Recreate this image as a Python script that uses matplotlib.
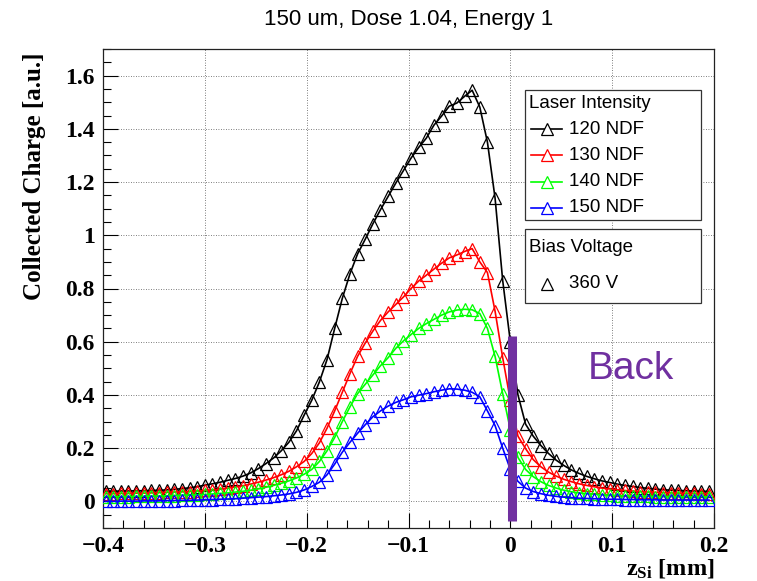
import matplotlib
matplotlib.use("Agg")
import matplotlib.pyplot as plt
from matplotlib.lines import Line2D
from matplotlib.patches import Rectangle
from matplotlib.ticker import MultipleLocator

plt.rcParams['mathtext.fontset'] = 'custom'
plt.rcParams['mathtext.bf'] = 'Liberation Serif:bold'
plt.rcParams['mathtext.rm'] = 'Liberation Serif:bold'

# ---------------- data ----------------
z_si = [-0.3975, -0.39, -0.3825, -0.375, -0.3675, -0.36, -0.3525, -0.345, -0.3375, -0.33,
        -0.3225, -0.315, -0.3075, -0.3, -0.2925, -0.285, -0.2775, -0.27, -0.2625, -0.255,
        -0.2475, -0.24, -0.2325, -0.225, -0.2175, -0.21, -0.2025, -0.195, -0.1875, -0.18,
        -0.1725, -0.165, -0.1575, -0.15, -0.1425, -0.135, -0.1275, -0.12, -0.1125, -0.105,
        -0.0975, -0.09, -0.0825, -0.075, -0.0675, -0.06, -0.0525, -0.045, -0.0375, -0.03,
        -0.0225, -0.015, -0.0075, 0.0, 0.0075, 0.015, 0.0225, 0.03, 0.0375, 0.045,
        0.0525, 0.06, 0.0675, 0.075, 0.0825, 0.09, 0.0975, 0.105, 0.1125, 0.12,
        0.1275, 0.135, 0.1425, 0.15, 0.1575, 0.165, 0.1725, 0.18, 0.1875, 0.195]

q_120 = [0.038, 0.038, 0.039, 0.039, 0.040, 0.040, 0.041, 0.042, 0.043, 0.045,
         0.048, 0.051, 0.055, 0.061, 0.066, 0.072, 0.079, 0.086, 0.095, 0.107,
         0.123, 0.142, 0.163, 0.190, 0.222, 0.265, 0.324, 0.380, 0.449, 0.533,
         0.650, 0.763, 0.855, 0.930, 0.985, 1.043, 1.096, 1.146, 1.196, 1.243,
         1.290, 1.330, 1.365, 1.414, 1.448, 1.485, 1.497, 1.522, 1.545, 1.482,
         1.350, 1.140, 0.830, 0.600, 0.400, 0.290, 0.245, 0.210, 0.180, 0.155,
         0.135, 0.118, 0.105, 0.094, 0.085, 0.077, 0.071, 0.065, 0.060, 0.056,
         0.052, 0.049, 0.046, 0.044, 0.042, 0.041, 0.040, 0.039, 0.038, 0.038]

q_130 = [0.029, 0.029, 0.030, 0.030, 0.031, 0.031, 0.032, 0.033, 0.034, 0.035,
         0.036, 0.037, 0.039, 0.041, 0.043, 0.046, 0.050, 0.054, 0.059, 0.065,
         0.072, 0.080, 0.089, 0.100, 0.113, 0.130, 0.150, 0.180, 0.220, 0.275,
         0.340, 0.410, 0.480, 0.545, 0.595, 0.640, 0.680, 0.712, 0.740, 0.768,
         0.800, 0.828, 0.850, 0.873, 0.895, 0.915, 0.926, 0.939, 0.950, 0.900,
         0.860, 0.715, 0.540, 0.380, 0.245, 0.198, 0.157, 0.130, 0.110, 0.095,
         0.083, 0.074, 0.066, 0.060, 0.055, 0.050, 0.047, 0.044, 0.041, 0.039,
         0.037, 0.035, 0.034, 0.033, 0.032, 0.031, 0.030, 0.030, 0.029, 0.029]

q_140 = [0.018, 0.018, 0.018, 0.018, 0.019, 0.019, 0.020, 0.020, 0.021, 0.022,
         0.023, 0.024, 0.025, 0.026, 0.028, 0.030, 0.032, 0.035, 0.038, 0.042,
         0.047, 0.053, 0.060, 0.068, 0.077, 0.088, 0.102, 0.120, 0.150, 0.190,
         0.240, 0.300, 0.355, 0.405, 0.440, 0.475, 0.510, 0.540, 0.575, 0.603,
         0.627, 0.650, 0.668, 0.684, 0.700, 0.712, 0.719, 0.722, 0.720, 0.706,
         0.650, 0.545, 0.405, 0.270, 0.165, 0.120, 0.093, 0.074, 0.060, 0.050,
         0.042, 0.036, 0.032, 0.029, 0.027, 0.025, 0.023, 0.022, 0.021, 0.020,
         0.019, 0.019, 0.018, 0.018, 0.018, 0.017, 0.017, 0.017, 0.017, 0.017]

q_150 = [0.000, 0.000, 0.001, 0.001, 0.001, 0.002, 0.002, 0.002, 0.003, 0.003,
         0.004, 0.004, 0.005, 0.006, 0.007, 0.008, 0.009, 0.010, 0.012, 0.014,
         0.016, 0.018, 0.021, 0.024, 0.028, 0.034, 0.043, 0.056, 0.072, 0.100,
         0.140, 0.185, 0.222, 0.256, 0.288, 0.318, 0.340, 0.358, 0.372, 0.382,
         0.393, 0.399, 0.405, 0.412, 0.418, 0.423, 0.422, 0.418, 0.410, 0.393,
         0.340, 0.285, 0.200, 0.120, 0.075, 0.050, 0.037, 0.029, 0.023, 0.019,
         0.016, 0.014, 0.012, 0.011, 0.010, 0.009, 0.008, 0.008, 0.007, 0.007,
         0.006, 0.006, 0.006, 0.005, 0.005, 0.005, 0.005, 0.005, 0.005, 0.005]

series_labels = ["120 NDF", "130 NDF", "140 NDF", "150 NDF"]
series_values = [q_120, q_130, q_140, q_150]
series_colors = ["#000000", "#ff0000", "#00ff00", "#0000ff"]

title = "150 um, Dose 1.04, Energy 1"
xlabel = r"$\mathbf{z_{Si}}$ [mm]"
ylabel = "Collected Charge [a.u.]"
bias_label = "360 V"
back_x = [0.002, 0.002]
back_y = [-0.075, 0.622]

# ---------------- figure ----------------
W, H = 757, 581
fig = plt.figure(figsize=(W / 100, H / 100), dpi=100)
L, R, T, B = 103, 714, 49, 528
ax = fig.add_axes([L / W, 1 - B / H, (R - L) / W, (B - T) / H])

MS = 8.5
for vals, col in zip(series_values, series_colors):
    ax.plot(z_si, vals, color=col, lw=1.2, marker='^', markersize=MS,
            markerfacecolor='none', markeredgecolor=col, markeredgewidth=0.9, zorder=3)

ax.plot(back_x, back_y, color='#7030a0', lw=6.5, solid_capstyle='butt', zorder=5)
ax.text(0.1185, 0.497, "Back", color='#7030a0', fontsize=28,
        family='Liberation Sans', ha='center', va='center', zorder=5)

ax.set_xlim(-0.4, 0.2)
ax.set_ylim(-0.1, 1.7)
ax.xaxis.set_major_locator(MultipleLocator(0.1))
ax.xaxis.set_minor_locator(MultipleLocator(0.02))
ax.yaxis.set_major_locator(MultipleLocator(0.2))
ax.yaxis.set_minor_locator(MultipleLocator(0.05))
ax.tick_params(which='both', direction='in', top=False, right=False,
               labelsize=17, pad=6, width=0.8)
ax.tick_params(which='major', length=11)
ax.tick_params(which='minor', length=5.5)
for lab in ax.get_xticklabels() + ax.get_yticklabels():
    lab.set_family('Liberation Serif')
    lab.set_fontweight('bold')

def fmt(v, pos):
    s = f"{v:.1f}".rstrip('0').rstrip('.')
    if s in ("-0", "0"):
        return "0"
    return s.replace('-', '\u2212')
ax.xaxis.set_major_formatter(plt.FuncFormatter(fmt))
ax.yaxis.set_major_formatter(plt.FuncFormatter(fmt))

ax.grid(True, which='major', color='#555555', lw=0.6, linestyle=(0, (1, 2)))
ax.set_axisbelow(True)
for sp in ax.spines.values():
    sp.set_linewidth(0.9)
    sp.set_color('#222222')

fig.text((L + R) / 2 / W, 1 - 19 / H, title, ha='center', va='center',
         fontsize=16, family='Liberation Sans')
fig.text(35 / W, 1 - 52 / H, ylabel, rotation=90, ha='center', va='top',
         fontsize=18, family='Liberation Serif', fontweight='bold')
fig.text(714 / W, 1 - 569 / H, xlabel, ha='right', va='center',
         fontsize=17.5, family='Liberation Serif', fontweight='bold')

# ---------------- legends (pixel layout) ----------------
def fx(px):
    return px / W

def fy(py):
    return 1 - py / H

def box(x0, y0, x1, y1):
    fig.patches.append(Rectangle((fx(x0), fy(y1)), fx(x1) - fx(x0), fy(y0) - fy(y1),
                                 transform=fig.transFigure, facecolor='white',
                                 edgecolor='#333333', lw=0.9, zorder=2))

box(525, 90, 701, 220)
fig.text(fx(529), fy(103), "Laser Intensity", ha='left', va='center',
         fontsize=13.5, family='Liberation Sans', zorder=3)
for i, (lab, col) in enumerate(zip(series_labels, series_colors)):
    yy = 129 + i * 26.3
    fig.lines.append(Line2D([fx(531), fx(562)], [fy(yy), fy(yy)], transform=fig.transFigure,
                            color=col, lw=1.2, zorder=3))
    fig.lines.append(Line2D([fx(547)], [fy(yy)], transform=fig.transFigure, marker='^',
                            markersize=MS, markerfacecolor='white', markeredgecolor=col,
                            markeredgewidth=0.9, zorder=4))
    fig.text(fx(569), fy(yy), lab, ha='left', va='center', fontsize=13.5,
             family='Liberation Sans', zorder=3)

box(525, 229, 701, 303)
fig.text(fx(529), fy(248), "Bias Voltage", ha='left', va='center',
         fontsize=13.5, family='Liberation Sans', zorder=3)
fig.lines.append(Line2D([fx(547)], [fy(284)], transform=fig.transFigure, marker='^',
                        markersize=MS, markerfacecolor='none', markeredgecolor='black',
                        markeredgewidth=0.9, zorder=4))
fig.text(fx(569), fy(284), bias_label, ha='left', va='center', fontsize=13.5,
         family='Liberation Sans', zorder=3)

fig.savefig("out.png", dpi=100, facecolor='white')
